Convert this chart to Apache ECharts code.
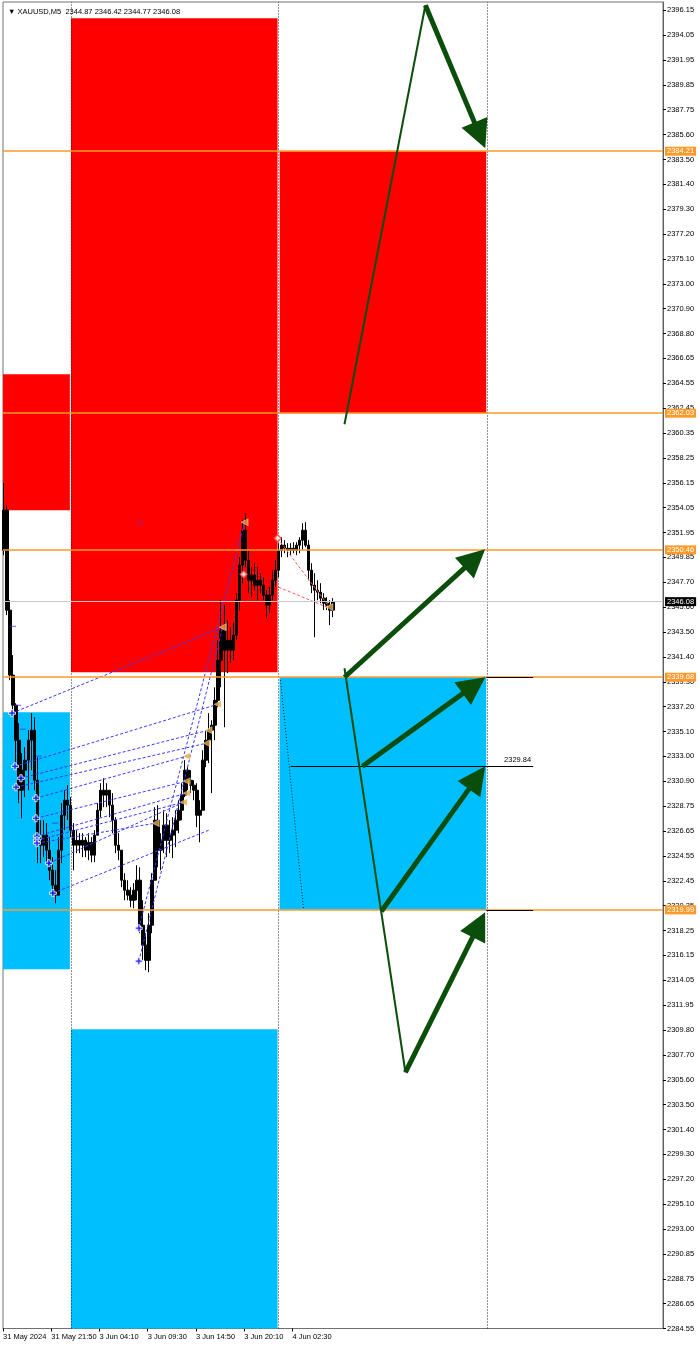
<!DOCTYPE html>
<html><head><meta charset="utf-8">
<script src="https://cdn.jsdelivr.net/npm/echarts@6/dist/echarts.min.js"></script>
<style>html,body{margin:0;padding:0;background:#fff}#c{width:700px;height:1346px}</style>
</head><body><div id="c"></div>
<script>
// ---------- axis ticks ----------
const yTicks = [2396.15,2394.05,2391.95,2389.85,2387.75,2385.60,2383.50,2381.40,2379.30,2377.20,2375.10,2373.00,2370.90,2368.80,2366.65,2364.55,2362.45,2360.35,2358.25,2356.15,2354.05,2351.95,2349.85,2347.70,2345.60,2343.50,2341.40,2339.30,2337.20,2335.10,2333.00,2330.90,2328.75,2326.65,2324.55,2322.45,2320.35,2318.25,2316.15,2314.05,2311.95,2309.80,2307.70,2305.60,2303.50,2301.40,2299.30,2297.20,2295.10,2293.00,2290.85,2288.75,2286.65,2284.55];
const yTickStep = 2284.55 / 1085;   // MT4 price-scale step (2284.55 and 2396.15 are multiples)
const xTickIdx = [0,64,128,192,256,320,384];
const xTickLabels = ['31 May 2024','31 May 21:50','3 Jun 04:10','3 Jun 09:30','3 Jun 14:50','3 Jun 20:10','4 Jun 02:30'];
const yMin = 2284.55, yMax = 2396.84, xMin = 0, xMax = 875.5;

// ---------- price (aggregated M5 bars, 4 bars each) ----------
const candleOpen = [2350.43,2353.82,2345.36,2339.86,2337.31,2334.35,2330.12,2331.81,2332.66,2334.35,2335.20,2330.96,2325.88,2325.46,2326.31,2325.04,2323.34,2322.08,2321.23,2325.04,2328.00,2329.27,2328.85,2326.73,2325.46,2325.88,2325.46,2325.88,2325.04,2325.71,2324.62,2326.31,2328.42,2330.12,2329.70,2330.12,2328.85,2327.58,2325.46,2325.04,2322.50,2321.65,2321.23,2320.80,2321.65,2322.50,2318.69,2317.00,2315.72,2318.69,2322.50,2327.58,2325.04,2325.88,2327.16,2325.88,2326.31,2326.73,2327.58,2328.42,2329.70,2331.81,2330.96,2330.54,2330.12,2328.00,2328.42,2332.66,2334.35,2335.20,2335.62,2337.73,2341.12,2343.66,2341.97,2342.82,2341.97,2343.24,2346.20,2349.17,2352.13,2349.59,2347.89,2348.32,2347.47,2347.89,2347.47,2346.63,2345.78,2346.63,2347.89,2348.74,2350.43,2350.86,2350.60,2350.43,2350.60,2350.43,2350.86,2351.28,2352.13,2350.86,2348.74,2347.47,2347.05,2346.88,2346.37,2345.95,2345.78,2345.36];
const candleClose = [2353.82,2345.36,2339.86,2337.31,2334.35,2330.12,2331.81,2332.66,2334.35,2335.20,2330.96,2325.88,2325.46,2326.31,2325.04,2323.34,2322.08,2321.23,2325.04,2328.00,2329.27,2328.85,2326.73,2325.46,2325.88,2325.46,2325.88,2325.04,2325.71,2324.62,2326.31,2328.42,2330.12,2329.70,2330.12,2328.85,2327.58,2325.46,2325.04,2322.50,2321.65,2321.23,2320.80,2321.65,2322.50,2318.69,2317.00,2315.72,2318.69,2322.50,2327.58,2325.04,2325.88,2327.16,2325.88,2326.31,2326.73,2327.58,2328.42,2329.70,2331.81,2330.96,2330.54,2330.12,2328.00,2328.42,2332.66,2334.35,2335.20,2335.62,2337.73,2341.12,2343.66,2341.97,2342.82,2341.97,2343.24,2346.20,2349.17,2352.13,2349.59,2347.89,2348.32,2347.47,2347.89,2347.47,2346.63,2345.78,2346.63,2347.89,2348.74,2350.43,2350.86,2350.60,2350.43,2350.60,2350.43,2350.86,2351.28,2352.13,2350.86,2348.74,2347.47,2347.05,2346.88,2346.37,2345.95,2345.78,2345.36,2346.08];
const candleHigh = [2356.11,2354.24,2346.20,2341.55,2337.48,2335.79,2333.25,2333.76,2335.20,2336.64,2336.30,2332.91,2327.58,2327.58,2327.33,2326.14,2324.45,2323.34,2326.14,2329.02,2330.12,2330.54,2329.53,2327.33,2326.73,2326.48,2326.48,2326.14,2326.48,2326.14,2326.73,2329.02,2330.71,2331.13,2330.71,2330.12,2329.87,2327.83,2326.48,2325.04,2323.09,2322.50,2321.91,2322.25,2323.77,2323.59,2320.80,2318.01,2319.71,2323.09,2328.68,2328.85,2326.48,2328.42,2328.17,2327.58,2327.83,2328.42,2329.27,2330.71,2332.66,2332.07,2331.81,2330.96,2330.71,2329.27,2333.50,2335.20,2336.64,2336.04,2338.83,2342.82,2346.20,2345.78,2344.51,2343.92,2344.26,2346.80,2349.84,2352.97,2353.56,2350.43,2348.99,2349.33,2348.99,2348.49,2348.15,2347.05,2347.30,2348.74,2349.59,2351.03,2351.53,2351.28,2351.03,2351.03,2351.11,2351.11,2351.53,2352.72,2352.80,2351.28,2349.33,2348.49,2347.89,2347.64,2346.80,2346.46,2346.20,2346.37];
const candleLow = [2350.01,2344.94,2339.43,2336.72,2332.41,2329.02,2327.74,2329.53,2330.12,2331.81,2330.12,2323.94,2323.94,2324.45,2323.94,2322.50,2321.06,2320.55,2321.23,2323.94,2326.73,2327.58,2326.14,2323.34,2324.79,2324.79,2324.45,2324.45,2324.19,2324.02,2324.02,2326.31,2327.83,2328.68,2328.68,2327.83,2326.48,2324.79,2324.19,2321.91,2320.80,2320.80,2320.21,2320.12,2320.80,2318.01,2315.72,2314.88,2314.71,2318.01,2322.50,2323.59,2323.34,2324.79,2324.45,2324.79,2324.37,2325.29,2326.48,2327.58,2329.53,2330.12,2329.87,2329.27,2326.99,2325.71,2328.42,2332.07,2332.41,2329.87,2334.35,2337.14,2338.83,2335.45,2340.03,2340.87,2341.12,2342.82,2345.36,2347.64,2348.99,2346.80,2346.46,2347.05,2346.20,2346.80,2346.20,2344.68,2345.11,2346.20,2347.30,2348.15,2349.84,2350.18,2349.84,2350.01,2350.18,2350.01,2350.18,2350.43,2350.68,2347.89,2346.80,2343.07,2346.20,2345.95,2345.36,2345.36,2344.09,2344.77];
const barsPerCandle = 4;

// ---------- objects ----------
const levelLines = [2384.21, 2362.03, 2350.46, 2339.68, 2319.99];
const bidPrice = 2346.08;
const separators = [90.1, 365.6, 642.4];
const redZones = [[0, 88.7, 2365.33, 2353.82],[90.1, 364.2, 2395.47, 2340.10],[366.9, 641.1, 2384.21, 2362.03]];
const blueZones = [[0, 88.7, 2336.72, 2314.96],[90.1, 364.2, 2309.88, yMin],[366.9, 641.1, 2339.68, 2319.99]];
const blueDash = [[11.9,2336.64,291.4,2343.92],[15.9,2332.14,284.8,2337.39],[23.8,2331.13,272.8,2335.20],[17.2,2330.37,270.2,2334.10],[43.7,2329.44,243.7,2333.00],[43.7,2327.74,243.7,2330.88],[45.0,2326.22,243.7,2329.87],[45.0,2325.88,239.7,2329.10],[45.0,2325.63,202.6,2327.33],[60.9,2323.94,239.7,2329.10],[66.2,2321.40,272.8,2326.73],[180.1,2318.43,320.5,2352.80],[180.1,2315.64,291.4,2343.92]];
const redDash = [[364.2,2351.45,433.1,2345.62],[365.6,2347.30,433.1,2345.53]];
const blueCrosses = [[11.9,2336.64],[15.9,2332.14],[23.8,2331.13],[17.2,2330.37],[43.7,2329.44],[43.7,2327.74],[45.0,2326.22],[45.0,2325.88],[45.0,2325.63],[60.9,2323.94],[66.2,2321.40],[180.1,2318.43],[180.1,2315.64]];
const orangeTriangles = [[291.4,2343.92],[284.8,2337.39],[272.8,2335.20],[270.2,2334.10],[243.7,2333.00],[243.7,2330.88],[243.7,2329.87],[239.7,2329.10],[202.6,2327.33],[320.5,2352.80],[433.1,2345.62]];
const redDiamonds = [[319.2,2348.40],[364.2,2351.45]];
const blueTicks = [[13.2,2343.99],[19.9,2337.31],[26.5,2335.28],[47.7,2333.00],[68.9,2327.33],[181.5,2352.80]];
const greenThin = [[453.0,2361.10,560.3,2396.57],[453.0,2340.44,533.8,2306.24]];
const greenArrows = [[560.3,2396.57,632.6,2385.55],[453.0,2339.68,625.8,2349.72],[476.8,2332.14,624.8,2338.99],[502.0,2319.87,628.9,2331.18],[533.8,2306.24,631.3,2318.73]];
const blackSegs = [[641.1,2339.68,703.3],[641.1,2319.99,703.3],[381.5,2332.14,703.3]];
const segText = '2329.84';
const dottedDiag = [368.2,2339.43,398.7,2320.04];
const headerText = 'XAUUSD,M5  2344.87 2346.42 2344.77 2346.08';

// ---------- build ----------
const FONT = 'Liberation Sans, Arial, DejaVu Sans, sans-serif';
const ORANGE = '#ff9a2a';
const GREEN = '#0b4d0b';
const candleData = candleOpen.map((o, i) => [i * barsPerCandle + 1.5, o, candleClose[i], candleLow[i], candleHigh[i]]);
const nearestTick = v => yTicks.reduce((a, b) => Math.abs(b - v) < Math.abs(a - v) ? b : a);

const levelItems = levelLines.map(v => ({
  yAxis: v,
  lineStyle: {color: ORANGE, width: 1.5, type: 'solid', opacity: 1},
  label: {show: true, position: 'end', distance: 2, formatter: v.toFixed(2), color: '#fff',
    backgroundColor: ORANGE, fontSize: 7.5, fontFamily: FONT, padding: [1, 2, 0, 2]}
})).concat([{
  yAxis: bidPrice,
  lineStyle: {color: '#c8c8c8', width: 1, type: 'solid', opacity: 1},
  label: {show: true, position: 'end', distance: 2, formatter: bidPrice.toFixed(2), color: '#fff',
    backgroundColor: '#000', fontSize: 7.5, fontFamily: FONT, padding: [1, 2, 0, 2]}
}]);

const chart = echarts.init(document.getElementById('c'), null, {renderer: 'canvas'});
const option = {
  animation: false,
  backgroundColor: '#ffffff',
  title: {
    text: '▼ ' + headerText, left: 3, top: 3,
    textStyle: {fontSize: 7.5, fontWeight: 'normal', color: '#000', fontFamily: FONT}
  },
  grid: {left: 2, right: 37, top: 2, bottom: 17.5, show: true, borderColor: '#707070', borderWidth: 1, backgroundColor: '#fff'},
  xAxis: {
    type: 'value', min: xMin, max: xMax,
    axisLine: {show: true, onZero: false, lineStyle: {color: '#707070'}},
    axisTick: {show: true, customValues: xTickIdx, length: 3, lineStyle: {color: '#000'}},
    axisLabel: {
      show: true, customValues: xTickIdx, align: 'left', margin: 4, fontSize: 7.5, color: '#000', fontFamily: FONT,
      formatter: v => xTickLabels[xTickIdx.indexOf(v)] || ''
    },
    splitLine: {show: false}
  },
  yAxis: {
    type: 'value', position: 'right', min: yMin, max: yMax, interval: yTickStep,
    axisLine: {show: true, onZero: false, lineStyle: {color: '#606060'}},
    axisTick: {show: true, length: 3, inside: false, lineStyle: {color: '#000'}},
    axisLabel: {show: true, margin: 4, fontSize: 7.5, color: '#000', fontFamily: FONT,
      showMinLabel: true, showMaxLabel: false,
      formatter: v => nearestTick(Number(v)).toFixed(2)},
    splitLine: {show: false}
  },
  series: [
    { // zones
      type: 'line', data: [], z: 1, silent: true,
      markArea: {
        silent: true,
        data: redZones.map(r => [{xAxis: r[0], yAxis: r[2], itemStyle: {color: '#ff0000', opacity: 1}}, {xAxis: r[1], yAxis: r[3]}])
          .concat(blueZones.map(r => [{xAxis: r[0], yAxis: r[2], itemStyle: {color: '#00bfff', opacity: 1}}, {xAxis: r[1], yAxis: r[3]}]))
      }
    },
    { // period separators + dotted diagonal
      type: 'line', data: [], z: 2, silent: true,
      markLine: {
        silent: true, symbol: 'none', label: {show: false},
        lineStyle: {color: '#222', width: 1, type: [1, 2]},
        data: separators.map(x => ({xAxis: x, lineStyle: {color: '#222', width: 1, type: [1, 2]}}))
          .concat([[{coord: [dottedDiag[0], dottedDiag[1]], lineStyle: {color: '#222', width: 1, type: [1, 2]}}, {coord: [dottedDiag[2], dottedDiag[3]]}]])
      }
    },
    { // price
      type: 'candlestick', z: 3, barWidth: 3,
      encode: {x: 0, y: [1, 2, 3, 4]},
      data: candleData,
      itemStyle: {color: '#000', color0: '#000', borderColor: '#000', borderColor0: '#000', borderWidth: 1}
    },
    { // blue dashed links
      type: 'lines', coordinateSystem: 'cartesian2d', z: 4, silent: true,
      lineStyle: {color: '#3a3aff', width: 1, type: [3, 2], opacity: 1},
      data: blueDash.map(d => ({coords: [[d[0], d[1]], [d[2], d[3]]]}))
    },
    { // red dashed links
      type: 'lines', coordinateSystem: 'cartesian2d', z: 4, silent: true,
      lineStyle: {color: '#ff5a5a', width: 1, type: [3, 2], opacity: 1},
      data: redDash.map(d => ({coords: [[d[0], d[1]], [d[2], d[3]]]}))
    },
    {
      type: 'scatter', z: 5, silent: true, data: blueTicks,
      symbol: 'rect', symbolSize: [6, 1], itemStyle: {color: '#3a3aff'}
    },
    {
      type: 'scatter', z: 5, silent: true, data: blueCrosses,
      symbol: 'path://M2,0H4V2H6V4H4V6H2V4H0V2H2Z', symbolSize: 7,
      itemStyle: {color: '#1f1fff', borderColor: '#ffffff', borderWidth: 1}
    },
    {
      type: 'scatter', z: 5, silent: true, data: orangeTriangles,
      symbol: 'triangle', symbolRotate: 90, symbolSize: [7, 7],
      itemStyle: {color: '#e9a43a', borderColor: '#fff', borderWidth: 0.5}
    },
    {
      type: 'scatter', z: 5, silent: true, data: redDiamonds,
      symbol: 'diamond', symbolSize: 7,
      itemStyle: {color: '#ffffff', borderColor: '#ff4040', borderWidth: 1.5}
    },
    { // level lines
      type: 'line', data: [], z: 6, silent: true,
      markLine: {
        silent: true, symbol: 'none',
        lineStyle: {color: ORANGE, width: 1.5, type: 'solid', opacity: 1},
        data: levelItems
      }
    },
    { // black segments
      type: 'line', data: [], z: 7, silent: true,
      markLine: {
        silent: true, symbol: 'none',
        lineStyle: {color: '#000', width: 1, type: 'solid'},
        label: {show: false},
        data: blackSegs.map((s, i) => [
          {coord: [s[0], s[1]], lineStyle: {color: '#000', width: 1, type: 'solid'},
           label: i === 2 ? {show: true, position: 'insideEndTop', formatter: segText, color: '#000', fontSize: 7.5, fontFamily: FONT, distance: 2} : {show: false}},
          {coord: [s[2], s[1]]}
        ])
      }
    },
    { // green thin lines
      type: 'lines', coordinateSystem: 'cartesian2d', z: 8, silent: true,
      lineStyle: {color: GREEN, width: 2, opacity: 1},
      data: greenThin.map(d => ({coords: [[d[0], d[1]], [d[2], d[3]]]}))
    },
    { // green arrows
      type: 'lines', coordinateSystem: 'cartesian2d', z: 8, silent: true,
      symbol: ['none', 'triangle'], symbolSize: [18, 28],
      lineStyle: {color: GREEN, width: 5, opacity: 1},
      itemStyle: {color: GREEN},
      data: greenArrows.map(d => ({coords: [[d[0], d[1]], [d[2], d[3]]]}))
    }
  ]
};
chart.setOption(option);
</script>
</body></html>
